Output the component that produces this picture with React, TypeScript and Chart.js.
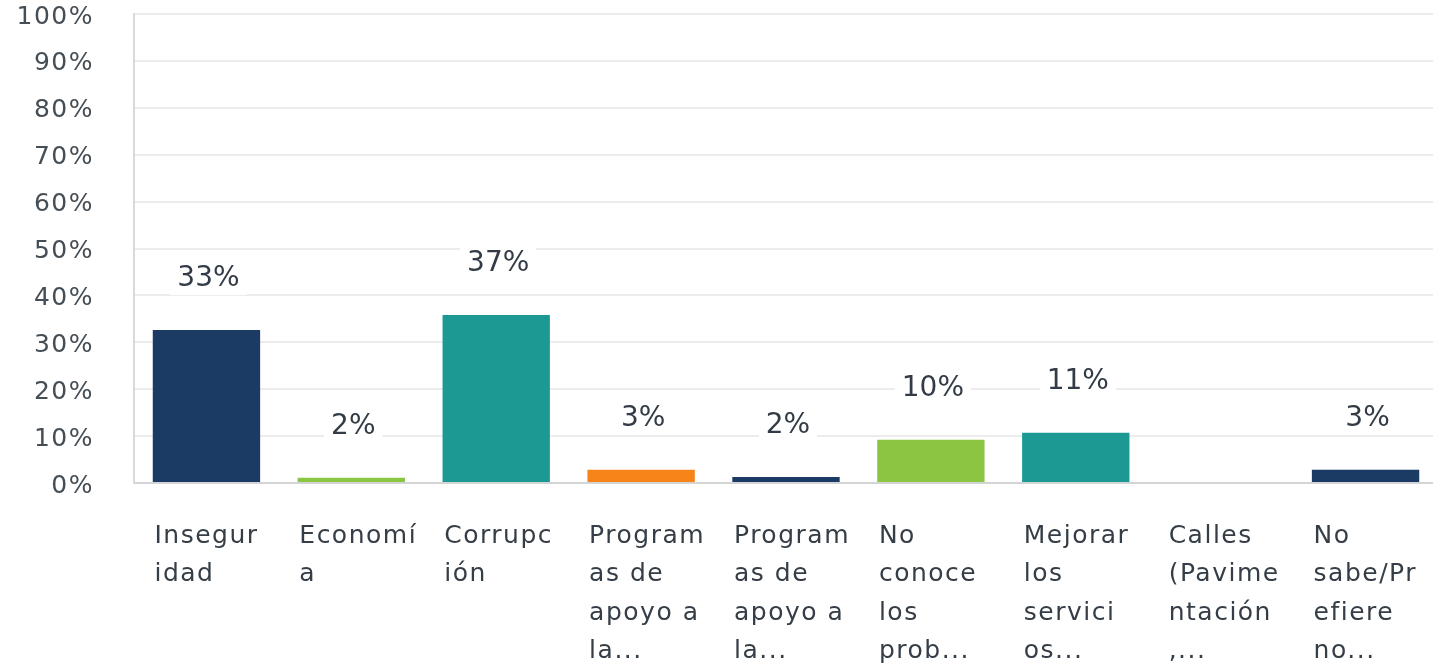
import React, { useEffect, useRef } from "react";
import { Chart, registerables } from "chart.js";

Chart.register(...registerables);

const categories: string[][] = [
  ["Insegur", "idad"],
  ["Economí", "a"],
  ["Corrupc", "ión"],
  ["Program", "as de", "apoyo a", "la..."],
  ["Program", "as de", "apoyo a", "la..."],
  ["No", "conoce", "los", "prob..."],
  ["Mejorar", "los", "servici", "os..."],
  ["Calles", "(Pavime", "ntación", ",..."],
  ["No", "sabe/Pr", "efiere", "no..."],
];

const barValues: number[] = [32.6, 1.1, 35.8, 2.8, 1.3, 9.2, 10.7, 0, 2.8];
const valueLabels: string[] = ["33%", "2%", "37%", "3%", "2%", "10%", "11%", "", "3%"];
const barColors: string[] = [
  "#1b3a64",
  "#8cc541",
  "#1c9993",
  "#f68419",
  "#1b3a64",
  "#8cc541",
  "#1c9993",
  "#f68419",
  "#1b3a64",
];

const yMin = 0;
const yMax = 100;
const yStep = 10;

const FONT = "'DejaVu Sans', sans-serif";

const spacingPlugin = {
  id: "letterSpacingPlugin",
  beforeLayout(chart: any) {
    chart.ctx.letterSpacing = "1.5px";
  },
  beforeDraw(chart: any) {
    chart.ctx.letterSpacing = "1.5px";
  },
};

const valueLabelPlugin = {
  id: "valueLabels",
  afterDatasetsDraw(chart: any) {
    const ctx = chart.ctx;
    const meta = chart.getDatasetMeta(0);
    ctx.save();
    ctx.letterSpacing = "0px";
    ctx.font = `28px ${FONT}`;
    ctx.textAlign = "center";
    ctx.textBaseline = "middle";
    meta.data.forEach((bar: any, i: number) => {
      const txt = valueLabels[i];
      if (!txt) return;
      const x = bar.x + 2;
      const y = bar.y - 52;
      const w = ctx.measureText(txt).width;
      ctx.fillStyle = "#ffffff";
      ctx.fillRect(x - w / 2 - 7, y - 17, w + 14, 34);
      ctx.fillStyle = "#333c46";
      ctx.fillText(txt, x, y + 1);
    });
    ctx.restore();
  },
};

export default function App() {
  const canvasRef = useRef<HTMLCanvasElement | null>(null);

  useEffect(() => {
    if (!canvasRef.current) return;
    const chart = new Chart(canvasRef.current, {
      type: "bar",
      data: {
        labels: categories,
        datasets: [
          {
            data: barValues,
            backgroundColor: barColors,
            borderWidth: 0,
            barPercentage: 0.741,
            categoryPercentage: 1,
          },
        ],
      },
      options: {
        responsive: false,
        animation: false,
        layout: { padding: { top: 14, left: 0, right: 0, bottom: 0 } },
        plugins: {
          legend: { display: false },
          tooltip: { enabled: false },
        },
        scales: {
          x: {
            offset: true,
            grid: { display: false, drawTicks: false },
            border: { display: true, color: "#d2d4d6", width: 2 },
            ticks: {
              align: "start",
              labelOffset: -52,
              padding: 34,
              maxRotation: 0,
              minRotation: 0,
              autoSkip: false,
              color: "#353e47",
              font: { family: FONT, size: 25, lineHeight: "38.5px" },
            },
            afterFit(scale: any) {
              scale.height = 183;
              scale.paddingLeft = 0;
              scale.paddingRight = 0;
            },
          },
          y: {
            min: yMin,
            max: yMax,
            grid: { color: "#ececec", lineWidth: 2, drawTicks: false },
            border: { display: true, color: "#d8d9db", width: 2 },
            ticks: {
              stepSize: yStep,
              padding: 40,
              labelOffset: 3,
              color: "#454d55",
              font: { family: FONT, size: 25 },
              callback: (v: any) => `${v}%`,
            },
            afterFit(scale: any) {
              scale.width = 134;
              scale.paddingTop = 0;
              scale.paddingBottom = 0;
            },
          },
        },
      } as any,
      plugins: [spacingPlugin, valueLabelPlugin],
    });
    return () => chart.destroy();
  }, []);

  return (
    <div
      style={{
        position: "fixed",
        left: 0,
        top: 0,
        width: 1433,
        height: 666,
        overflow: "hidden",
        background: "#ffffff",
      }}
    >
      <canvas
        ref={canvasRef}
        width={1438}
        height={666}
        style={{ width: 1438, height: 666, display: "block" }}
      />
    </div>
  );
}
